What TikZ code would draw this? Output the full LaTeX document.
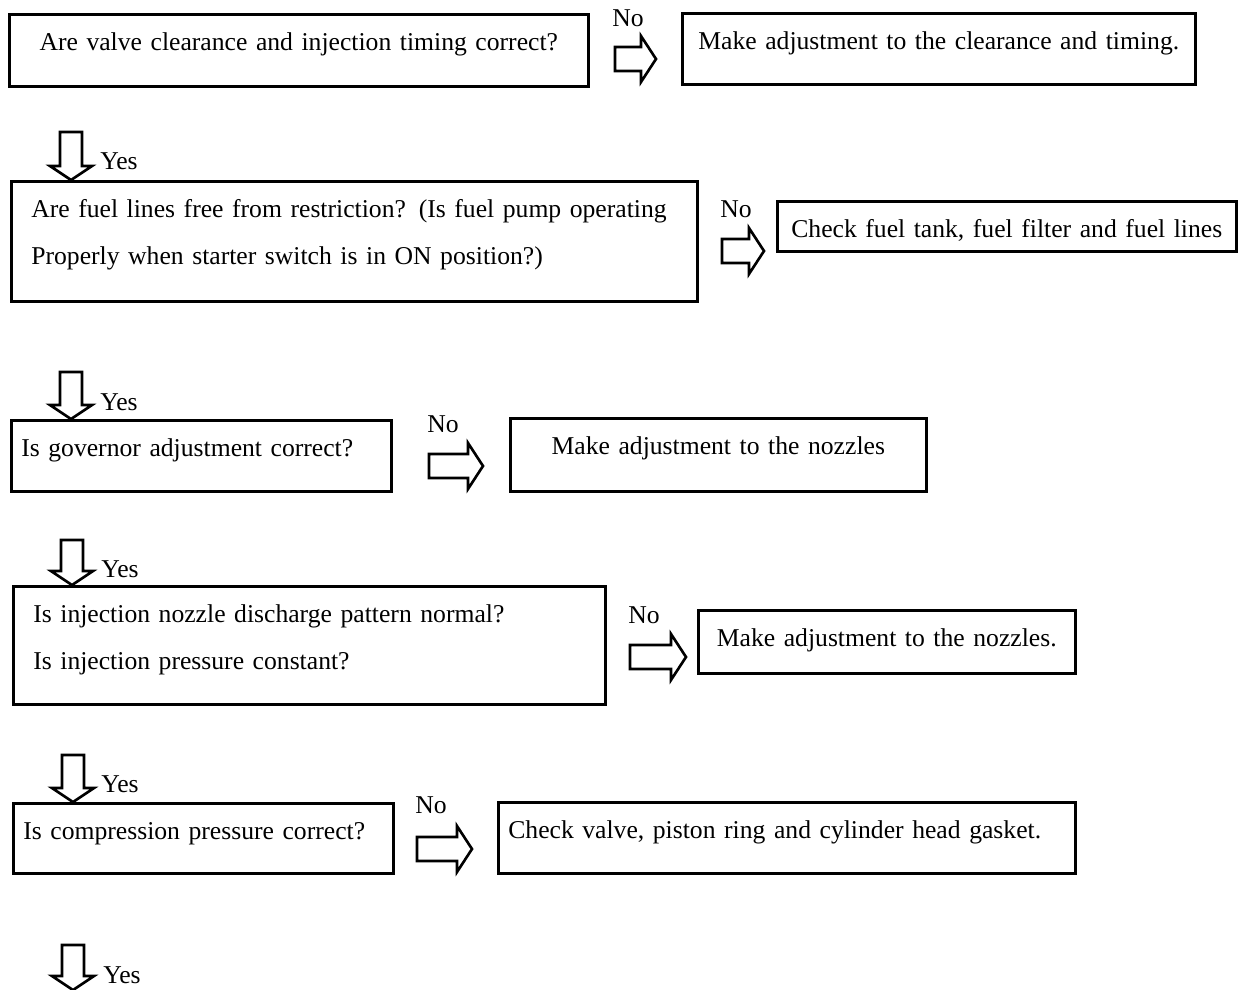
\documentclass[tikz,border=0pt]{standalone}
\usepackage{fontspec}
\setmainfont{Liberation Serif}
\usetikzlibrary{calc}

\begin{document}
\begin{tikzpicture}[x=0.02cm, y=-0.02cm,
    every node/.style={font=\fontsize{14.6}{26.6}\selectfont},
    box/.style n args={3}{draw, line width=1.5pt, anchor=north west, inner xsep=0.2cm, inner ysep=0.22cm, text height=0.5cm, text width=#1, text depth=#2, align=#3},
    tag/.style={anchor=base west, inner sep=0pt},
    noarrow/.style={draw, line width=1.5pt, line join=miter, to path={let \p1=(\tikztostart), \p2=(\tikztotarget) in
        (\x1,\y1+0.24cm) -- (\x2-0.3cm,\y1+0.24cm) -- (\x2-0.3cm,\y1+0.46cm) -- (\x2,\y1)
        -- (\x2-0.3cm,\y1-0.46cm) -- (\x2-0.3cm,\y1-0.24cm) -- (\x1,\y1-0.24cm) -- cycle}},
    yesarrow/.style={draw, line width=1.5pt, line join=miter, to path={let \p1=(\tikztostart), \p2=(\tikztotarget) in
        (\x1-0.22cm,\y1) -- (\x1-0.22cm,\y2+0.28cm) -- (\x1-0.42cm,\y2+0.28cm) -- (\x1,\y2)
        -- (\x1+0.42cm,\y2+0.28cm) -- (\x1+0.22cm,\y2+0.28cm) -- (\x1+0.22cm,\y1) -- cycle}}]
    \useasboundingbox (0,0) rectangle (1241,990);

    % questions on the left
    \node[box={11.18cm}{0.50cm}{center}] (valve_check) at (8,13) {Are valve clearance and injection timing correct?};
    \node[box={12.92cm}{1.46cm}{left}, inner xsep=0.4cm] (fuel_check) at (10,180) {Are fuel lines free from restriction? (Is fuel pump operating\\Properly when starter switch is in ON position?)};
    \node[box={7.20cm}{0.48cm}{left}] (governor_check) at (10,419) {Is governor adjustment correct?};
    \node[box={11.04cm}{1.42cm}{left}, inner xsep=0.4cm] (nozzle_check) at (12,585) {Is injection nozzle discharge pattern normal?\\Is injection pressure constant?};
    \node[box={7.20cm}{0.46cm}{left}] (compression_check) at (12,802) {Is compression pressure correct?};

    % remedies on the right
    \node[box={9.86cm}{0.48cm}{center}] (valve_fix) at (681,12) {Make adjustment to the clearance and timing.};
    \node[box={8.78cm}{0.06cm}{center}] (fuel_fix) at (776,200) {Check fuel tank, fuel filter and fuel lines};
    \node[box={7.92cm}{0.52cm}{center}] (governor_fix) at (509,417) {Make adjustment to the nozzles};
    \node[box={7.14cm}{0.32cm}{center}] (nozzle_fix) at (697,609) {Make adjustment to the nozzles.};
    \node[box={11.14cm}{0.48cm}{left}] (compression_fix) at (497,801) {Check valve, piston ring and cylinder head gasket.};

    % ends of the hollow arrows
    \coordinate (valve_no_start) at (615,59);
    \coordinate (valve_no_end) at (656,59);
    \coordinate (fuel_no_start) at (722,251);
    \coordinate (fuel_no_end) at (764,251);
    \coordinate (governor_no_start) at (429,466);
    \coordinate (governor_no_end) at (483,466);
    \coordinate (nozzle_no_start) at (630,657);
    \coordinate (nozzle_no_end) at (686,657);
    \coordinate (compression_no_start) at (417,849);
    \coordinate (compression_no_end) at (472,849);
    \coordinate (valve_yes_start) at (71,132);
    \coordinate (fuel_yes_start) at (71,372);
    \coordinate (governor_yes_start) at (72,540);
    \coordinate (nozzle_yes_start) at (73,755);
    \coordinate (compression_yes_start) at (73,945);
    \coordinate (compression_yes_end) at (73,990);

    \draw[noarrow] (valve_no_start) to (valve_no_end);
    \draw[noarrow] (fuel_no_start) to (fuel_no_end);
    \draw[noarrow] (governor_no_start) to (governor_no_end);
    \draw[noarrow] (nozzle_no_start) to (nozzle_no_end);
    \draw[noarrow] (compression_no_start) to (compression_no_end);
    \draw[yesarrow] (valve_yes_start) to (valve_yes_start |- fuel_check.north);
    \draw[yesarrow] (fuel_yes_start) to (fuel_yes_start |- governor_check.north);
    \draw[yesarrow] (governor_yes_start) to (governor_yes_start |- nozzle_check.north);
    \draw[yesarrow] (nozzle_yes_start) to (nozzle_yes_start |- compression_check.north);
    \draw[yesarrow] (compression_yes_start) to (compression_yes_end);

    % labels
    \node[tag] (valve_no) at (612,27) {No};
    \node[tag] (fuel_no) at (720,217) {No};
    \node[tag] (governor_no) at (427,432) {No};
    \node[tag] (nozzle_no) at (628,623) {No};
    \node[tag] (compression_no) at (415,813) {No};
    \node[tag] (valve_yes) at (100,170) {Yes};
    \node[tag] (fuel_yes) at (100,410) {Yes};
    \node[tag] (governor_yes) at (101,577) {Yes};
    \node[tag] (nozzle_yes) at (101,792) {Yes};
    \node[tag] (compression_yes) at (103,983) {Yes};
\end{tikzpicture}
\end{document}
